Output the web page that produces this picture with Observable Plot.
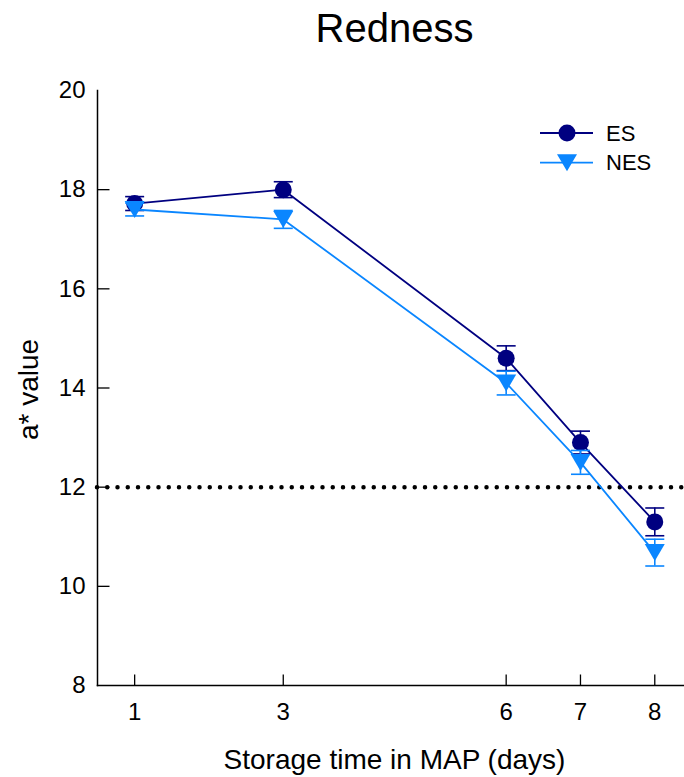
<!DOCTYPE html>
<html>
<head>
<meta charset="utf-8">
<script src="https://cdn.jsdelivr.net/npm/d3@7"></script>
<script src="https://cdn.jsdelivr.net/npm/@observablehq/plot@0.6"></script>
<style>
  html, body { margin: 0; padding: 0; background: #fff; }
  #wrap { position: relative; width: 684px; height: 777px; font-family: "Liberation Sans", Arial, sans-serif; }
  #title { height: 56px; box-sizing: border-box; padding-top: 8px; padding-left: 105px; font-size: 40px; line-height: 40px; text-align: center; color: #000; }
  #legend { position: absolute; left: 530px; top: 115px; }
</style>
</head>
<body>
<div id="wrap">
  <div id="title">Redness</div>
  <div id="chart"></div>
  <div id="legend"></div>
</div>
<script>
// ---- data ----
const days = [1, 3, 6, 7, 8];
const esMean = [17.72, 18.0, 14.6, 12.9, 11.3];
const esErr = [0.14, 0.16, 0.25, 0.23, 0.28];
const nesMean = [17.6, 17.4, 14.1, 12.5, 10.68];
const nesErr = [0.13, 0.18, 0.24, 0.24, 0.27];
const seriesNames = ["ES", "NES"];
const seriesColors = ["#000080", "#0A86FF"];
const yTickLabels = [8, 10, 12, 14, 16, 18, 20];
const yTickMarks = [10, 12, 14, 16, 18];
const refLine = [12];
const xLabel = "Storage time in MAP (days)";
const yLabel = "a* value";

// ---- build table ----
function build(name, means, errs) {
  return days.map((d, i) => ({ series: name, day: d, mean: means[i], lo: means[i] - errs[i], hi: means[i] + errs[i] }));
}
const es = build("ES", esMean, esErr);
const nes = build("NES", nesMean, nesErr);

// custom symbols
function lineSymbol(x0, y0, x1, y1) {
  return { draw(ctx) { ctx.moveTo(x0, y0); ctx.lineTo(x1, y1); } };
}
const capSym = lineSymbol(-9.5, 0, 9.5, 0);
const yTickSym = lineSymbol(0, 0, 12, 0);
const xTickSym = lineSymbol(0, 0, 0, -11);
const triDown = { draw(ctx) { ctx.moveTo(-10, -8.5); ctx.lineTo(10, -8.5); ctx.lineTo(0, 8.5); ctx.closePath(); } };

function seriesMarks(data, color, symbol, r) {
  return [
    Plot.line(data, { x: "day", y: "mean", stroke: color, strokeWidth: 1.8 }),
    Plot.ruleX(data, { x: "day", y1: "lo", y2: "hi", stroke: color, strokeWidth: 1.6 }),
    Plot.dot(data, { x: "day", y: "hi", symbol: capSym, fill: "none", stroke: color, strokeWidth: 1.6 }),
    Plot.dot(data, { x: "day", y: "lo", symbol: capSym, fill: "none", stroke: color, strokeWidth: 1.6 }),
    Plot.dot(data, { x: "day", y: "mean", symbol, r, fill: color, stroke: "none" })
  ];
}

const chart = Plot.plot({
  width: 684,
  height: 721,
  marginTop: 34,
  marginBottom: 92,
  marginLeft: 97,
  marginRight: 0,
  style: { fontFamily: '"Liberation Sans", Arial, sans-serif', fontSize: "24px", background: "white", overflow: "visible" },
  x: { type: "linear", domain: [0.5, 8.4] },
  y: { type: "linear", domain: [8, 20] },
  marks: [
    Plot.ruleY(refLine, { stroke: "black", strokeWidth: 4.5, strokeDasharray: "0 10.25", strokeLinecap: "round" }),
    ...seriesMarks(es, seriesColors[0], "circle", 8.5),
    ...seriesMarks(nes, seriesColors[1], triDown, 8.5),
    Plot.frame({ anchor: "left", stroke: "black", strokeWidth: 1.5 }),
    Plot.frame({ anchor: "bottom", stroke: "black", strokeWidth: 1.5 }),
    Plot.dot(yTickMarks, { frameAnchor: "left", y: d => d, symbol: yTickSym, fill: "none", stroke: "black", strokeWidth: 1.3 }),
    Plot.dot(days, { frameAnchor: "bottom", x: d => d, symbol: xTickSym, fill: "none", stroke: "black", strokeWidth: 1.3 }),
    Plot.axisY({ ticks: yTickLabels, tickSize: 0, tickPadding: 12, fontSize: 24, label: null }),
    Plot.axisX({ ticks: days, tickSize: 0, tickPadding: 17, fontSize: 24, label: null }),
    Plot.text([xLabel], { frameAnchor: "bottom", dx: 3.5, dy: 75, fontSize: 28, textAnchor: "middle", lineAnchor: "middle" }),
    Plot.text([yLabel], { frameAnchor: "left", dx: -68, dy: 1.5, rotate: -90, fontSize: 28, textAnchor: "middle", lineAnchor: "middle" })
  ]
});
document.getElementById("chart").appendChild(chart);

// ---- legend ----
const lg = d3.select("#legend").append("svg").attr("width", 150).attr("height", 70)
  .style("font-family", '"Liberation Sans", Arial, sans-serif');
const rows = lg.selectAll("g").data(seriesNames).join("g")
  .attr("transform", (d, i) => `translate(0,${18 + i * 29.7})`);
rows.append("line").attr("x1", 10).attr("x2", 63).attr("y1", 0).attr("y2", 0)
  .attr("stroke", (d, i) => seriesColors[i]).attr("stroke-width", 1.8);
rows.append("path")
  .attr("transform", "translate(37,0)")
  .attr("d", (d, i) => {
    const p = d3.path();
    if (i === 0) { p.arc(0, 0, 8.5, 0, 2 * Math.PI); }
    else { triDown.draw(p); }
    return p.toString();
  })
  .attr("fill", (d, i) => seriesColors[i]);
rows.append("text").attr("x", 76).attr("y", 0).attr("dy", "0.35em")
  .attr("font-size", 22).attr("fill", "black").text(d => d);
</script>
</body>
</html>
